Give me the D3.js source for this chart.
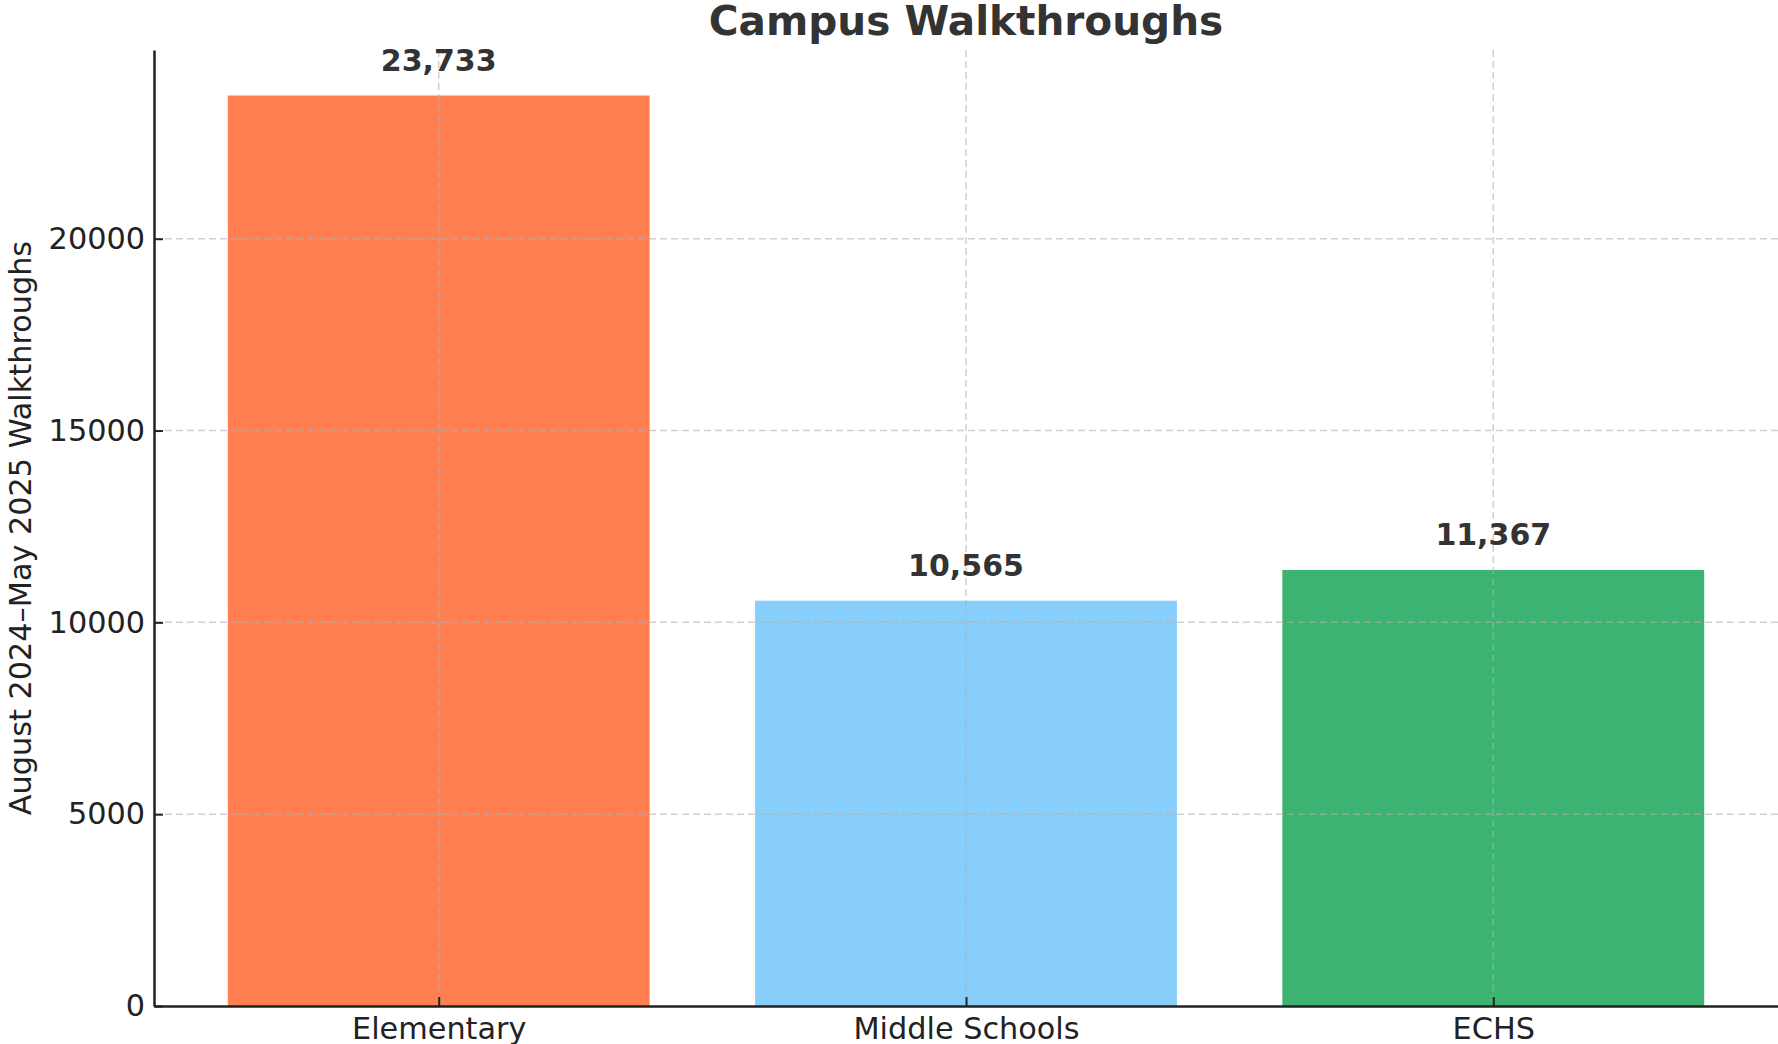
<!DOCTYPE html>
<html>
<head>
<meta charset="utf-8">
<script src="https://cdn.jsdelivr.net/npm/d3@7"></script>
<style>
  body { margin: 0; background: #fff; }
  svg { display: block; font-family: "DejaVu Sans", sans-serif; }
</style>
</head>
<body>
<div class="content-container"></div>
<script>
// data
const categories = ["Elementary", "Middle Schools", "ECHS"];
const walkthroughs = [23733, 10565, 11367];
const barColors = ["#FF7F50", "#87CEFA", "#3CB371"];
const yTicks = [0, 5000, 10000, 15000, 20000];

const width = 1778;
const height = 1044;
const margin = {top: 50, right: 0, bottom: 38, left: 154};
const plotBottom = height - margin.bottom;
const textColor = "#333333";

const svg = d3.select(".content-container")
  .append("svg")
  .attr("width", width)
  .attr("height", height);

// x scale in "category units", with matplotlib-ish margins
const xScale = d3.scaleLinear()
  .domain([-0.54, categories.length - 1 + 0.54])
  .range([margin.left, width - margin.right]);

const yScale = d3.scaleLinear()
  .domain([0, d3.max(walkthroughs) * 1.05])
  .range([plotBottom, margin.top]);

const barWidth = 0.8;

// BARS
svg.selectAll("rect.bar")
  .data(walkthroughs)
  .enter()
  .append("rect")
  .attr("class", "bar")
  .attr("x", (d, i) => xScale(i - barWidth / 2))
  .attr("width", xScale(barWidth) - xScale(0))
  .attr("y", (d) => yScale(d))
  .attr("height", (d) => yScale(0) - yScale(d))
  .attr("fill", (d, i) => barColors[i]);

// GRID (drawn over the bars)
const grid = svg.append("g")
  .attr("stroke", "#b0b0b0")
  .attr("stroke-opacity", 0.6)
  .attr("stroke-width", 1.5)
  .attr("stroke-dasharray", "7,4");

grid.selectAll("line.h")
  .data(yTicks.slice(1))
  .enter()
  .append("line")
  .attr("x1", margin.left)
  .attr("x2", width - margin.right)
  .attr("y1", (d) => yScale(d))
  .attr("y2", (d) => yScale(d));

grid.selectAll("line.v")
  .data(categories)
  .enter()
  .append("line")
  .attr("x1", (d, i) => xScale(i))
  .attr("x2", (d, i) => xScale(i))
  .attr("y1", margin.top)
  .attr("y2", plotBottom);

// AXES
const yAxis = d3.axisLeft(yScale)
  .tickValues(yTicks)
  .tickFormat(d3.format("d"))
  .tickSizeInner(-9)
  .tickSizeOuter(0)
  .tickPadding(9);

const gy = svg.append("g")
  .attr("transform", "translate(" + margin.left + ",0)")
  .call(yAxis);

const xAxis = d3.axisBottom(xScale)
  .tickValues(d3.range(categories.length))
  .tickFormat((d) => categories[d])
  .tickSizeInner(-9)
  .tickSizeOuter(0)
  .tickPadding(11);

const gx = svg.append("g")
  .attr("transform", "translate(0," + plotBottom + ")")
  .call(xAxis);

[gx, gy].forEach(function(g) {
  g.select(".domain").attr("stroke", "#222").attr("stroke-width", 2.5);
  g.selectAll(".tick line").attr("stroke", "#222").attr("stroke-width", 2);
  g.selectAll(".tick text")
    .attr("fill", "#222")
    .style("font-size", "30.3px")
    .style("font-family", "DejaVu Sans");
});
gx.selectAll(".tick text").attr("dy", "0.72em");

// axis label
svg.append("text")
  .attr("transform", "translate(" + 31 + "," + ((margin.top + plotBottom) / 2) + ") rotate(-90)")
  .attr("text-anchor", "middle")
  .attr("fill", "#222")
  .style("font-size", "30.3px")
  .text("August 2024\u2013May 2025 Walkthroughs");

// VALUE LABELS
svg.selectAll("text.value")
  .data(walkthroughs)
  .enter()
  .append("text")
  .attr("class", "value")
  .attr("x", (d, i) => xScale(i))
  .attr("y", (d) => yScale(d) - 25)
  .attr("text-anchor", "middle")
  .attr("fill", textColor)
  .style("font-size", "30px")
  .style("font-weight", "bold")
  .text((d) => d3.format(",")(d));

// TITLE
svg.append("text")
  .attr("x", (margin.left + width - margin.right) / 2)
  .attr("y", 35)
  .attr("text-anchor", "middle")
  .attr("fill", textColor)
  .style("font-size", "40.6px")
  .style("font-weight", "bold")
  .text("Campus Walkthroughs");
</script>
</body>
</html>
